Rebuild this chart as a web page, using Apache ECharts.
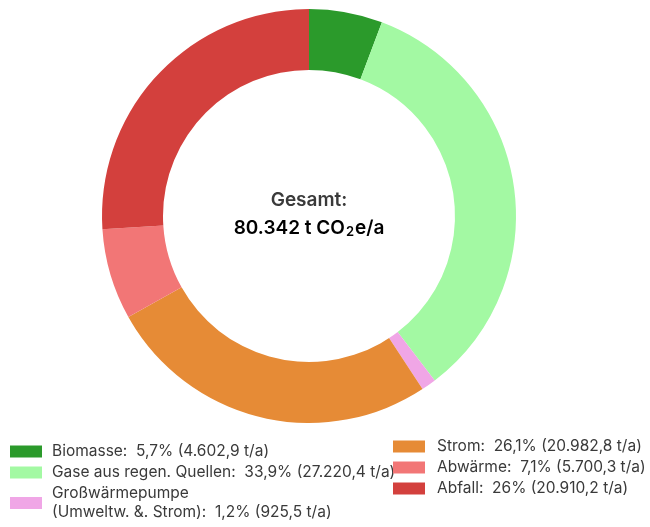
<!DOCTYPE html>
<html>
<head>
<meta charset="utf-8">
<script src="https://cdn.jsdelivr.net/npm/echarts@6/dist/echarts.min.js"></script>
<style>
  html, body { margin: 0; padding: 0; background: #fff; }
  #chart { width: 650px; height: 527px; }
</style>
</head>
<body>
<div id="chart"></div>
<script>
// Emission sources (t CO2e per year)
const categories = [
  'Biomasse',
  'Gase aus regen. Quellen',
  'Großwärmepumpe\n(Umweltw. &. Strom)',
  'Strom',
  'Abwärme',
  'Abfall'
];
const values = [4602.9, 27220.4, 925.5, 20982.8, 5700.3, 20910.2];
const valueLabels = ['4.602,9', '27.220,4', '925,5', '20.982,8', '5.700,3', '20.910,2'];
const shareLabels = ['5,7%', '33,9%', '1,2%', '26,1%', '7,1%', '26%'];
const colors = ['#2b9a2b', '#a3f9a3', '#f0a6e6', '#e68b36', '#f27676', '#d3403d'];
const totalLabel = '80.342';

const leftItems = categories.slice(0, 3);
const rightItems = categories.slice(3);

const FONT = 'Inter, "Noto Sans", sans-serif';
const TEXT = '#3a3a3a';

function legendText(name) {
  const i = categories.indexOf(name);
  return name + ':  ' + shareLabels[i] + ' (' + valueLabels[i] + ' t/a)';
}

const legendBase = {
  orient: 'vertical',
  height: 120,
  itemWidth: 32,
  itemHeight: 12,
  itemGap: 2,
  icon: 'rect',
  formatter: legendText
};

const chart = echarts.init(document.getElementById('chart'));
chart.setOption({
  animation: false,
  color: colors,
  legend: [
    Object.assign({}, legendBase, {
      data: leftItems,
      left: 5,
      top: 437,
      textStyle: { fontFamily: FONT, fontSize: 15.5, color: TEXT, lineHeight: 19, padding: [0, 0, 0, 5] }
    }),
    Object.assign({}, legendBase, {
      data: rightItems,
      left: 388,
      top: 432,
      textStyle: { fontFamily: FONT, fontSize: 15.5, color: TEXT, lineHeight: 19, padding: [0, 0, 0, 7] }
    })
  ],
  graphic: [
    {
      type: 'text',
      x: 309,
      y: 200,
      style: {
        text: 'Gesamt:',
        fontFamily: FONT,
        fontSize: 19,
        fontWeight: 600,
        fill: TEXT,
        align: 'center',
        verticalAlign: 'middle'
      }
    },
    {
      type: 'text',
      x: 309,
      y: 228,
      style: {
        text: '{a|' + totalLabel + ' t CO}{s|2}{a|e/a}',
        align: 'center',
        verticalAlign: 'middle',
        rich: {
          a: { fontFamily: FONT, fontSize: 19, fontWeight: 600, color: TEXT },
          s: { fontFamily: FONT, fontSize: 13, fontWeight: 600, color: TEXT, padding: [9, 1, 0, 1] }
        }
      }
    }
  ],
  series: [
    {
      type: 'pie',
      center: [309, 216],
      radius: [146, 207],
      startAngle: 90,
      clockwise: true,
      label: { show: false },
      labelLine: { show: false },
      emphasis: { disabled: true },
      itemStyle: { borderWidth: 0 },
      data: categories.map((name, i) => ({ name, value: values[i] }))
    }
  ]
});
</script>
</body>
</html>
